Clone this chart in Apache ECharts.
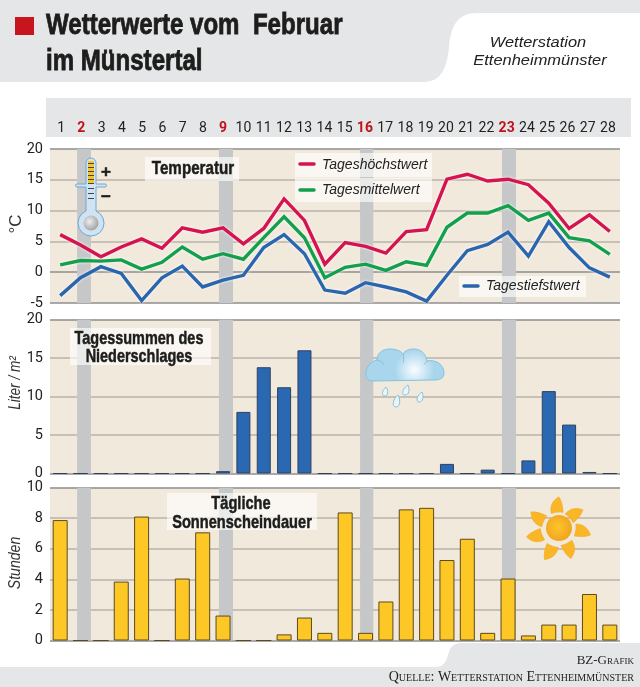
<!DOCTYPE html>
<html><head><meta charset="utf-8">
<style>html,body{margin:0;padding:0;background:#fff}#c{width:640px;height:687px}</style>
<script src="https://cdn.jsdelivr.net/npm/echarts@6/dist/echarts.min.js"></script>
</head><body><div id="c"></div>
<script>
const days = [1,2,3,4,5,6,7,8,9,10,11,12,13,14,15,16,17,18,19,20,21,22,23,24,25,26,27,28];
const redDays = [2,9,16,23];
const bandEdges = [[1.83,2.51],[8.8,9.49],[15.73,16.38],[22.7,23.39]];
const high = [6.1,4.4,2.5,4.1,5.4,3.9,7.2,6.5,7.2,4.6,7.1,11.9,8.4,1.3,4.8,4.2,3.1,6.6,6.9,15.1,15.9,14.8,15.1,14.2,11.2,7.1,9.3,6.6];
const mean = [1.2,1.9,1.8,2.0,0.5,1.6,4.1,2.1,3.0,2.1,5.6,9.0,5.6,-0.9,0.8,1.3,0.3,1.7,1.1,7.3,9.6,9.6,10.8,8.4,9.6,5.6,5.1,2.9];
const low = [-3.8,-0.9,0.9,-0.2,-4.6,-0.9,1.0,-2.4,-1.3,-0.5,4.0,6.1,3.0,-2.9,-3.4,-1.7,-2.4,-3.2,-4.7,-0.5,3.5,4.5,6.5,2.6,8.2,4.0,0.7,-0.8];
const rain = [0,0,0,0,0,0,0,0,0.3,8.0,13.8,11.2,16.0,0,0,0,0,0,0,1.25,0,0.5,0,1.7,10.7,6.35,0.2,0];
const sun = [7.87,0,0,3.85,8.1,0,4.05,7.07,1.63,0,0,0.4,1.5,0.5,8.37,0.5,2.55,8.57,8.67,5.26,6.65,0.5,4.05,0.33,1.04,1.04,3.04,1.04];

const SANS = '"Liberation Sans",sans-serif';
const TICK = 'Roboto,"Liberation Sans",sans-serif';
const HDR = '#e5e6e8', PANEL = '#f2e9dd', BAND = '#c5c7c9', DARK = '#8e8e8e', GRID = '#b9b2a8';
const pts = a => a.map((v,i)=>[days[i],v]);

const panels = [
  {top:149,h:154,min:-5,max:20,int:5,colors:[DARK,DARK,GRID,GRID,GRID,DARK]},
  {top:319.5,h:154,min:0,max:20,int:5,colors:[DARK,GRID,GRID,GRID,DARK]},
  {top:487.5,h:153,min:0,max:10,int:2,colors:[DARK,GRID,GRID,GRID,GRID,DARK]}
];
const grids = panels.map(p=>({left:50,width:570,top:p.top,height:p.h,show:true,backgroundColor:PANEL,borderWidth:0}));
grids.push({left:51,width:567,top:135,height:1});
const xAxes = panels.map((p,i)=>({type:'value',gridIndex:i,min:0.5,max:28.5,show:false}));
xAxes.push({type:'category',gridIndex:3,position:'top',data:days,axisLine:{show:false},axisTick:{show:false},
  axisLabel:{interval:0,margin:0,fontFamily:TICK,fontSize:14,color:'#222',
    formatter:v=>redDays.includes(+v)?'{r|'+v+'}':String(v),
    rich:{r:{color:'#c0141c',fontWeight:'bold',fontFamily:TICK,fontSize:14}}}});
const yAxes = panels.map((p,i)=>({type:'value',gridIndex:i,min:p.min,max:p.max,interval:p.int,
  axisLine:{show:false},axisTick:{show:false},
  axisLabel:{margin:7,fontFamily:TICK,fontSize:14.5,color:'#222'},
  splitLine:{show:true,lineStyle:{color:p.colors,width:1.5}}}));
yAxes.push({type:'value',gridIndex:3,show:false});

function bandSeries(i){return {type:'custom',xAxisIndex:i,yAxisIndex:i,silent:true,z:1,clip:true,
  data:bandEdges,
  renderItem:(params,api)=>{
    const a=api.coord([api.value(0),panels[i].max]), b=api.coord([api.value(1),panels[i].min]);
    return {type:'rect',shape:{x:a[0],y:a[1],width:b[0]-a[0],height:b[1]-a[1]},style:{fill:BAND}};
  }};}
function lineSeries(name,data,color){return {name,type:'line',xAxisIndex:0,yAxisIndex:0,data:pts(data),symbol:'none',z:4,
  lineStyle:{color,width:3.4,join:'miter',shadowColor:'rgba(255,255,255,0.95)',shadowBlur:3},silent:true};}
function barSeries(name,data,i,color,border,w){return {name,type:'bar',xAxisIndex:i,yAxisIndex:i,data:pts(data),barWidth:w,z:3,silent:true,
  itemStyle:{color,borderColor:border,borderWidth:1}};}

const P=(d,style,x=0,y=0,rot=0)=>({type:'path',x,y,rotation:rot,shape:{pathData:d},style});
function decoSeries(z,children){return {type:'custom',coordinateSystem:'none',silent:true,z,data:[0],clip:false,
  renderItem:()=>({type:'group',children})};}
const DROP={fill:'#eaf5fa',stroke:'#85c2df',lineWidth:1};
const CL='#85c2df';
const bgPaths=[
  P('M0 0H640V13H477C458 13 451 25 449 47C447 68 441 82 424 82H0Z',{fill:HDR}),
  P('M640 643H462C452 643 450 648 448 655C446 663 443 667 435 667H0V687H640Z',{fill:HDR})
];
const iconPaths=[
  P('M86 163A5 5 0 0 1 96 163V184H105A1.5 1.5 0 0 1 105 187H96V211A13 13 0 1 1 86 211V187H77A1.5 1.5 0 0 1 77 184H86Z',
    {fill:'#cfe3f2',stroke:'#6fa9d3',lineWidth:1}),
  P('M372 381C363 381 363 364 377 360C377 352 384 349 390 349C396 349 401 351 403 354C405 350 410 349 414 349C421 349 426 354 427 361C436 359 444 365 444 373C444 379 439 380 434 380Z',
    {fill:{type:'radial',x:0.62,y:0.65,r:0.6,colorStops:[{offset:0,color:'#fafdff'},{offset:1,color:'#a9d6ec'}]},stroke:CL,lineWidth:1}),
  P('M377 360C381 361 383 363 384 365M403 354C404 358 404 361 403 363M427 361C426 363 425 364 424 364',{fill:'none',stroke:CL,lineWidth:1}),
  P('M386 387C389 391 388 396 385 396C381 396 382 391 386 387Z',DROP),
  P('M408 385C410 390 409 395 405 395C401 395 402 389 408 385Z',DROP),
  P('M398 395C401 400 400 407 396 407C392 407 392 400 398 395Z',DROP),
  P('M422 392C424 397 423 402 419 402C416 402 416 396 422 392Z',DROP),
  ...[[556.5,505,0.09],[575,513,-0.82],[583,531,-1.7],[570,550,-2.68],[550,553,2.8],[535,537,1.93],[537,518,1.14]].map(r=>
    P('M-6 8C-7 0 -3 -5 3 -8C6 -3 6 3 6 8C2 7 -2 7 -6 8Z',{fill:'#f9b626',stroke:'#f3a51f',lineWidth:0.5},r[0],r[1],r[2]))
];

const series=[
  decoSeries(0,bgPaths),
  bandSeries(0),bandSeries(1),bandSeries(2),
  lineSeries('Tageshöchstwert',high,'#d5144f'),
  lineSeries('Tagesmittelwert',mean,'#12a04d'),
  lineSeries('Tagesstiefstwert',low,'#2a66ae'),
  barSeries('Niederschlag',rain,1,'#2b68b2','#2c4060',14),
  barSeries('Sonnenschein',sun,2,'#fdc826','#5c4a1c',15),
  decoSeries(25,iconPaths),
  {type:'line',xAxisIndex:3,yAxisIndex:3,data:[],silent:true}
];

const T=(text,x,y,o={})=>({type:'text',z:30,silent:true,x,y,rotation:o.rot||0,scaleX:o.sx||1,scaleY:1,style:Object.assign({text,
  fill:o.fill||'#1d1d1b',textAlign:o.align||'left',textVerticalAlign:'middle'},
  o.weight==='bold'?{stroke:'#1d1d1b',lineWidth:o.bw||0.5}:{},
  o.font?{font:o.font}:{fontFamily:o.family||SANS,fontSize:o.size||15,fontWeight:o.weight||'normal',fontStyle:o.italic?'italic':'normal'})});
const R=(x,y,w,h,fill,z=20)=>({type:'rect',z,silent:true,shape:{x,y,width:w,height:h},style:{fill}});
const C=(cx,cy,r,style,z=26)=>({type:'circle',z,silent:true,shape:{cx,cy,r},style});
const K=(x1,x2,y,color)=>({type:'line',z:26,silent:true,shape:{x1,y1:y,x2,y2:y},style:{stroke:color,lineWidth:3.5,lineCap:'round'}});
const W='rgba(255,255,255,0.62)';

const deco=[
  R(15,17,19,18,'#c8141c',1),
  R(46,98,585,39,HDR,-5),
  T('Wetterwerte vom  Februar',46,26,{weight:'bold',size:29,sx:0.83,bw:0.8}),
  T('im Münstertal',46,62,{weight:'bold',size:29,sx:0.83,bw:0.8}),
  T('Wetterstation',538,43,{italic:true,size:15.5,sx:1.06,align:'center',fill:'#222'}),
  T('Ettenheimmünster',540,61,{italic:true,size:15.5,sx:1.06,align:'center',fill:'#222'}),
  T('BZ-Grafik',634,661,{font:'small-caps 13px "Liberation Serif"',align:'right'}),
  T('Quelle: Wetterstation Ettenheimmünster',634,677,{font:'small-caps 14px "Liberation Serif"',align:'right',sx:1}),
  T('°C',16,224,{size:17,rot:Math.PI/2,align:'center',fill:'#333'}),
  T('Liter / m²',16,383,{italic:true,size:16,sx:0.85,rot:Math.PI/2,align:'center',fill:'#333'}),
  T('Stunden',16,563,{italic:true,size:16,sx:0.88,rot:Math.PI/2,align:'center',fill:'#333'}),
  R(145,157,94,24,W),
  T('Temperatur',193,169,{weight:'bold',size:19,sx:0.8,align:'center'}),
  R(295,153,137,24,W),R(295,178,137,24,W),
  K(300,314,164,'#d5144f'),K(300,314,190,'#12a04d'),
  T('Tageshöchstwert',322,165,{italic:true,size:14,fill:'#222'}),
  T('Tagesmittelwert',322,190,{italic:true,size:14,fill:'#222'}),
  R(459,276,127,21,W),
  K(464,478,286,'#2a66ae'),
  T('Tagestiefstwert',486,286.5,{italic:true,size:14,fill:'#222'}),
  R(70,328,141,37,W),
  T('Tagessummen des',139,339,{weight:'bold',size:18.5,sx:0.78,align:'center'}),
  T('Niederschlages',139,357,{weight:'bold',size:18.5,sx:0.78,align:'center'}),
  R(167,493,150,37,W),
  T('Tägliche',241,504,{weight:'bold',size:18.5,sx:0.79,align:'center'}),
  T('Sonnenscheindauer',242,523,{weight:'bold',size:18.5,sx:0.79,align:'center'}),
  R(88,161,6,22,'#f3c52a',26),
  C(91,223,7.5,{fill:{type:'radial',x:0.4,y:0.4,r:0.7,colorStops:[{offset:0,color:'#eee'},{offset:1,color:'#9a9a9a'}]}}),
  ...[163,167,171,175,179,183,188,193,198].map(y=>R(88,y,6,1,'#444',27)),
  T('+',106,172,{weight:'bold',size:17,align:'center'}),
  T('−',106,197,{weight:'bold',size:17,align:'center'}),
  C(559,528,13,{fill:{type:'radial',x:0.45,y:0.45,r:0.6,colorStops:[{offset:0,color:'#fdc52c'},{offset:1,color:'#f0a21e'}]}})
];

const chart=echarts.init(document.getElementById('c'),null,{renderer:'canvas',width:640,height:687});
chart.setOption({animation:false,backgroundColor:'#fff',grid:grids,xAxis:xAxes,yAxis:yAxes,series,graphic:{elements:deco}});
</script></body></html>
